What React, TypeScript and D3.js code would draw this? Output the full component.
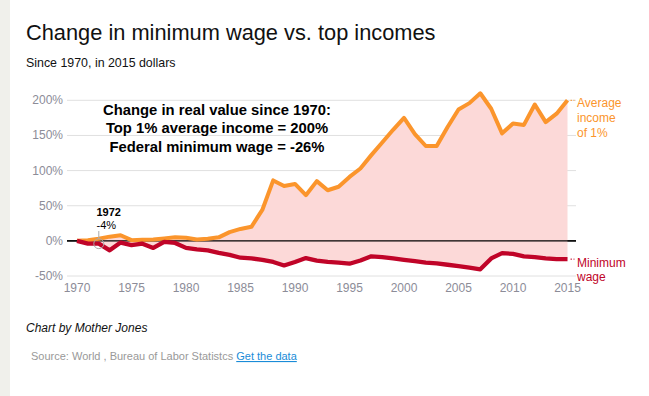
import React from 'react';
import * as d3 from 'd3';

// yearly change since 1970, in percent (2015 dollars)
const years = d3.range(1970, 2016);
const topOne = [
  0, 1, 3, 6, 8, 1, 1.5, 2, 3.5, 5, 4.5, 2, 3, 5, 12.5, 17, 20, 44, 86, 78,
  81, 65, 85, 72, 77, 91, 103, 122, 140, 158, 175, 152, 135, 135, 162, 187, 196, 210, 188, 153,
  167, 165, 194, 169, 181, 200,
];
const minWage = [
  0, -4, -4, -13.5, -2.5, -6, -4, -10, -1.5, -3, -10, -12, -13.5, -17, -20, -24, -25, -27, -30, -35,
  -30, -24.5, -28, -30, -31, -32.5, -28, -22, -23, -25, -27, -29, -31, -32, -34, -36, -38, -40.5, -25, -17.5,
  -18.5, -22, -23, -25, -26, -26,
];
const yTicks = [-50, 0, 50, 100, 150, 200];
const xTicks = [1970, 1975, 1980, 1985, 1990, 1995, 2000, 2005, 2010, 2015];
const noteLines = [
  'Change in real value since 1970:',
  'Top 1% average income = 200%',
  'Federal minimum wage = -26%',
];

const ORANGE = '#fb952c';
const RED = '#c00428';
const GREY = '#8c8c98';

export default function App() {
  const x = d3.scaleLinear().domain([1970, 2015]).range([77, 567.5]);
  const y = d3.scaleLinear().domain([-50, 200]).range([276, 100.3]);
  const rows = years.map((yr, i) => ({ yr, top: topOne[i], min: minWage[i] }));

  const area = d3
    .area<any>()
    .x((d) => x(d.yr))
    .y0((d) => y(d.min))
    .y1((d) => y(d.top));
  const topLine = d3
    .line<any>()
    .x((d) => x(d.yr))
    .y((d) => y(d.top));
  const minLine = d3
    .line<any>()
    .x((d) => x(d.yr))
    .y((d) => y(d.min));

  const last = rows[rows.length - 1];
  const note = rows[2];
  const font = 'Arial, "Liberation Sans", sans-serif';

  return (
    <div style={{ position: 'absolute', left: 0, top: 0 }}>
      <svg width={649} height={396} style={{ display: 'block', fontFamily: font }}>
        <rect x={0} y={0} width={649} height={396} fill='#fff' />
        <rect x={0} y={0} width={10} height={396} fill='#f0f0eb' />

        <text x={26} y={40} fontSize={21.8} fill='#111'>
          Change in minimum wage vs. top incomes
        </text>
        <text x={26} y={67} fontSize={12.4} fill='#111'>
          Since 1970, in 2015 dollars
        </text>

        {/* grid */}
        {yTicks.map((t) => (
          <g key={t}>
            <line
              x1={67}
              x2={576}
              y1={y(t)}
              y2={y(t)}
              stroke={t === 0 ? '#000' : '#e0e0e0'}
              strokeWidth={t === 0 ? 1.2 : 1}
            />
            <text x={63} y={y(t) + 4} fontSize={12} fill={GREY} textAnchor='end'>
              {t}%
            </text>
          </g>
        ))}
        {xTicks.map((t) => (
          <text key={t} x={x(t)} y={292} fontSize={12} fill={GREY} textAnchor='middle'>
            {t}
          </text>
        ))}

        <path d={area(rows) || ''} fill='#fcd9d8' />
        <line x1={67} x2={576} y1={y(0)} y2={y(0)} stroke='#000' strokeWidth={1.2} />
        <path d={topLine(rows) || ''} fill='none' stroke={ORANGE} strokeWidth={4} strokeLinejoin='round' />
        <path d={minLine(rows) || ''} fill='none' stroke={RED} strokeWidth={4.3} strokeLinejoin='round' />

        {/* series labels */}
        <line x1={x(last.yr) + 3} x2={x(last.yr) + 7} y1={y(last.top)} y2={y(last.top)} stroke={ORANGE} strokeDasharray='1.5,1.5' />
        <text x={577} fontSize={12} fill={ORANGE}>
          <tspan x={577} y={107}>Average</tspan>
          <tspan x={577} y={122}>income</tspan>
          <tspan x={577} y={137}>of 1%</tspan>
        </text>
        <line x1={x(last.yr) + 3} x2={x(last.yr) + 7} y1={y(last.min)} y2={y(last.min)} stroke={RED} strokeDasharray='1.5,1.5' />
        <text x={577} fontSize={12} fill={RED}>
          <tspan x={577} y={267}>Minimum</tspan>
          <tspan x={577} y={281}>wage</tspan>
        </text>

        {/* 1972 annotation */}
        <circle cx={x(note.yr)} cy={y(note.min)} r={5} fill='none' stroke='#aaa' strokeWidth={1} />
        <line x1={x(note.yr)} x2={x(note.yr)} y1={y(note.min) - 5} y2={231} stroke='#aaa' />
        <text x={96.5} y={216} fontSize={11} fontWeight='bold' fill='#000'>
          {note.yr}
        </text>
        <text x={96.5} y={229} fontSize={11} fill='#000'>
          {Math.round(note.min)}%
        </text>

        <text fontSize={14.8} fontWeight='bold' fill='#000' textAnchor='middle'>
          {noteLines.map((s, i) => (
            <tspan key={i} x={217} y={115 + i * 18.3}>
              {s}
            </tspan>
          ))}
        </text>

        <text x={26} y={332} fontSize={12} fontStyle='italic' fill='#111'>
          Chart by Mother Jones
        </text>
        <text x={31} y={360} fontSize={11} fill='#999'>
          Source: World , Bureau of Labor Statistcs{' '}
          <tspan fill='#1a8cd8' textDecoration='underline'>
            Get the data
          </tspan>
        </text>
      </svg>
    </div>
  );
}
